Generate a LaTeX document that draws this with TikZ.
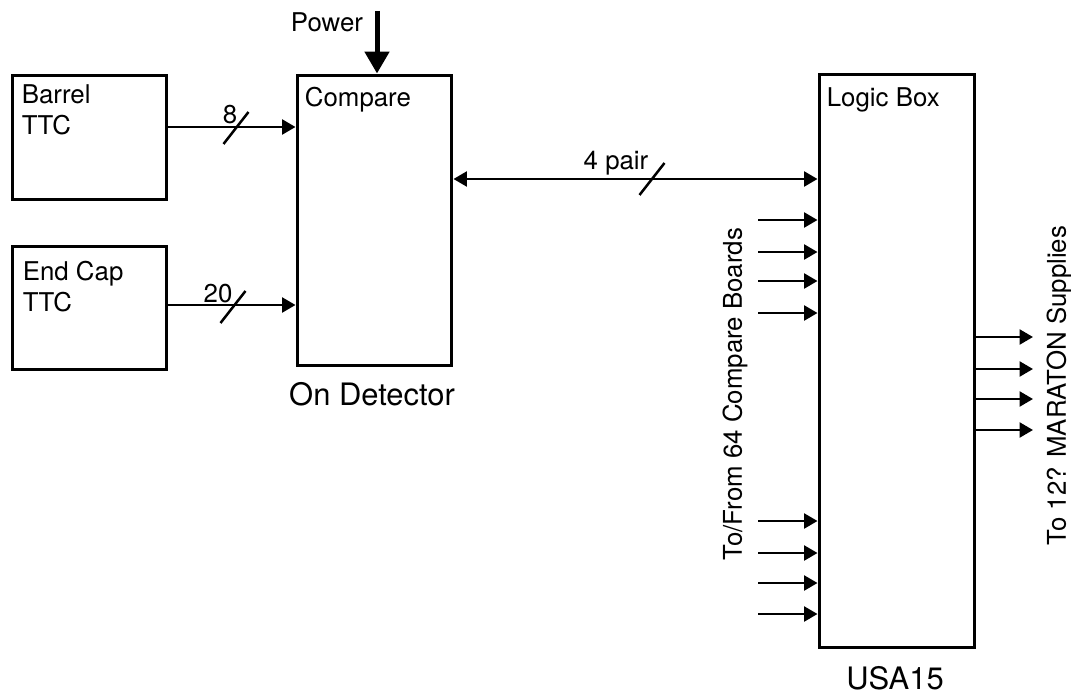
\documentclass[tikz,border=0pt]{standalone}
\usepackage{fontspec}
\setmainfont{TeX Gyre Heros}
\usepackage{tikz}
\usetikzlibrary{arrows.meta}

\tikzset{
	>={Triangle[length=0.27cm,width=0.3cm]},
	box/.style={draw, line width=0.06cm, inner sep=0pt},
	wire/.style={line width=0.05cm, ->},
	slash/.style={line width=0.05cm},
	lbl/.style={font=\fontsize{14.7}{17.6}\selectfont, inner sep=0pt},
	biglbl/.style={font=\fontsize{17.6}{20}\selectfont, inner sep=0pt}
}

\begin{document}
\begin{tikzpicture}[x=0.02cm, y=-0.02cm]
			\useasboundingbox (0,0) rectangle (1071,696);
			
			\node[box, minimum width=3.1cm, minimum height=2.5cm] (barrel) at (89.5,137.5) {};
			\node[box, minimum width=3.1cm, minimum height=2.48cm] (endcap) at (89.5,308) {};
			\node[box, minimum width=3.1cm, minimum height=5.82cm] (compare) at (374.5,220.5) {};
			\node[box, minimum width=3.12cm, minimum height=11.48cm] (logic) at (897,361) {};
			
			\node[lbl, anchor=north west, align=left] (barreltxt) at ([shift={(11,11)}]barrel.north west) {Barrel\\TTC};
			\node[lbl, anchor=north west, align=left] (endcaptxt) at ([shift={(12,16)}]endcap.north west) {End Cap\\TTC};
			\node[lbl, anchor=north west] (comparetxt) at ([shift={(9,13)}]compare.north west) {Compare};
			\node[lbl, anchor=north west] (logictxt) at ([shift={(9,15)}]logic.north west) {Logic Box};
			
			\coordinate (b1) at (barrel.east |- 0,127);
			\coordinate (e1) at (endcap.east |- 0,305);
			\coordinate (c1) at (compare.east |- 0,179);
			\coordinate (power) at (377,11);
			
			\draw[wire] (b1) -- (b1 -| compare.west);
			\draw[wire] (e1) -- (e1 -| compare.west);
			\draw[wire, <->] (c1) -- (c1 -| logic.west);
			\draw[line width=0.1cm, -{Triangle[length=0.44cm,width=0.48cm]}] (power) -- (power |- compare.north);
			
			\foreach \x/\y in {236/128, 233/307, 652/179}{
				\draw[slash] (\x-12.5,\y+16) -- (\x+12.5,\y-16);
			}
			
			\foreach \x/\y/\label in {
				230/123/8,
				218/302/20,
				616/169/4 pair,
				327/32/Power
			}{
				\node[lbl, anchor=base] at (\x,\y) {\label};
			}
			
			\foreach \y in {220,252,281,313,521,553,583,614}{
				\coordinate (in) at (758,\y);
				\draw[wire] (in) -- (in -| logic.west);
			}
			\foreach \y in {337,369,399,430}{
				\coordinate (out) at (1033,\y);
				\draw[wire] (out -| logic.east) -- (out);
			}
			
			\node[lbl, rotate=90] (boards) at (735,394) {To/From 64 Compare Boards};
			\node[lbl, rotate=90] (supplies) at (1059,385.5) {To 12? MARATON Supplies};
			\node[biglbl, anchor=base] (ondet) at (372,405) {On Detector};
			\node[biglbl, anchor=base] (usa) at (895,689) {USA15};
		\end{tikzpicture}
\end{document}
